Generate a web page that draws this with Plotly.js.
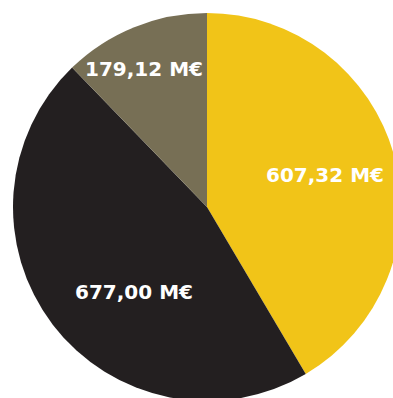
<!DOCTYPE html>
<html>
<head>
<meta charset="utf-8">
<script src="https://cdn.plot.ly/plotly-3.0.1.min.js"></script>
<style>
html, body { margin: 0; padding: 0; overflow: hidden; background: #fff; }
#chart { width: 420px; height: 420px; }
</style>
</head>
<body>
<div id="chart"></div>
<script>
const categories = ["Segment A", "Segment B", "Segment C"];
const values = [607.32, 677.00, 179.12];
const colors = ["#F1C418", "#231F20", "#776F55"];

// label placement (style): radial fraction and angular nudge (deg) per slice
const labelRadius = [0.632, 0.576, 0.783];
const labelNudge = [0.4, -11.8, -2.3];

const total = values.reduce((a, b) => a + b, 0);
let cum = 0;
const annotations = values.map((v, i) => {
  const mid = (cum + v / 2) / total * 2 * Math.PI + labelNudge[i] * Math.PI / 180;
  cum += v;
  const r = 0.5 * labelRadius[i];
  return {
    xref: "paper", yref: "paper",
    x: 0.5 + r * Math.sin(mid),
    y: 0.5 + r * Math.cos(mid),
    xanchor: "center", yanchor: "middle",
    showarrow: false,
    text: v.toFixed(2).replace(".", ",") + " M€",
    font: { family: "'DejaVu Sans', sans-serif", size: 20, color: "#ffffff", weight: "bold" }
  };
});

Plotly.newPlot("chart", [{
  type: "pie",
  labels: categories,
  values: values,
  sort: false,
  direction: "clockwise",
  rotation: 0,
  marker: { colors: colors, line: { width: 0 } },
  textinfo: "none",
  hoverinfo: "none"
}], {
  width: 420,
  height: 420,
  margin: { l: 13, t: 13, r: 19, b: 19, pad: 0 },
  showlegend: false,
  paper_bgcolor: "#ffffff",
  annotations: annotations
}, { staticPlot: true, displayModeBar: false });
</script>
</body>
</html>
